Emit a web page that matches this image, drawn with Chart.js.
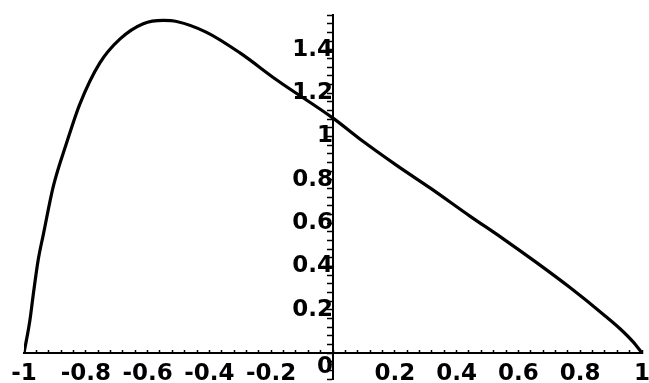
<!DOCTYPE html>
<html>
<head>
<meta charset="utf-8">
<script src="https://cdn.jsdelivr.net/npm/chart.js@4/dist/chart.umd.min.js"></script>
<style>
  html, body { margin: 0; padding: 0; background: #ffffff; }
  #wrap { width: 649px; height: 383px; }
</style>
</head>
<body>
<div id="wrap"><canvas id="c" width="649" height="383"></canvas></div>
<script>
const xValues = [-1, -0.981, -0.97, -0.954, -0.937, -0.905, -0.862, -0.819, -0.754, -0.689, -0.614, -0.549, -0.506, -0.409, -0.301, -0.182, 0, 0.098, 0.206, 0.314, 0.443, 0.551, 0.659, 0.767, 0.875, 0.929, 0.972, 1];
const yValues = [0, 0.15, 0.27, 0.43, 0.55, 0.77, 0.97, 1.15, 1.34, 1.45, 1.52, 1.535, 1.53, 1.48, 1.385, 1.26, 1.084, 0.976, 0.866, 0.762, 0.632, 0.527, 0.417, 0.302, 0.178, 0.112, 0.05, 0];

// Axis ranges and tick steps
const xRange = [-1, 1];
const yRange = [-0.12, 1.56];
const minorStep = 0.04;
const majorStep = 0.2;

const points = xValues.map((x, i) => ({ x: x, y: yValues[i] }));

function isMajor(v) {
  const r = v / majorStep;
  return Math.abs(r - Math.round(r)) < 1e-6;
}
function fmt(v) {
  const s = (Math.round(v / majorStep) * majorStep).toFixed(1);
  return s.replace(/\.0$/, '');
}
function noPad(scale) {
  scale.paddingLeft = 0;
  scale.paddingRight = 0;
  scale.paddingTop = 0;
  scale.paddingBottom = 0;
}

const labelFont = { family: 'DejaVu Sans', weight: 'bold', size: 23 };

new Chart(document.getElementById('c'), {
  type: 'scatter',
  data: {
    datasets: [{
      data: points,
      showLine: true,
      borderColor: '#000000',
      borderWidth: 3.2,
      pointRadius: 0,
      cubicInterpolationMode: 'monotone',
      fill: false
    }]
  },
  options: {
    responsive: false,
    animation: false,
    events: [],
    layout: { padding: { left: 24, right: 7, top: 15, bottom: 4 } },
    plugins: { legend: { display: false }, tooltip: { enabled: false } },
    scales: {
      x: {
        type: 'linear',
        min: xRange[0],
        max: xRange[1],
        position: { y: 0 },
        afterFit: noPad,
        border: { display: true, color: '#000000', width: 2 },
        grid: { drawOnChartArea: false, drawTicks: true, tickLength: -4, tickColor: '#000000', tickWidth: 1.5 },
        ticks: {
          stepSize: minorStep,
          autoSkip: false,
          maxRotation: 0,
          minRotation: 0,
          padding: 11,
          color: '#000000',
          font: labelFont,
          callback: function (v) {
            if (!isMajor(v)) return '';
            if (Math.abs(v) < 1e-9) return '';
            return fmt(v);
          }
        }
      },
      y: {
        type: 'linear',
        min: yRange[0],
        max: yRange[1],
        position: { x: 0 },
        afterFit: noPad,
        border: { display: true, color: '#000000', width: 2 },
        grid: { drawOnChartArea: false, drawTicks: true, tickLength: 5, tickColor: '#000000', tickWidth: 1.5 },
        ticks: {
          stepSize: minorStep,
          autoSkip: false,
          padding: 9,
          color: '#000000',
          font: labelFont,
          callback: function (v) {
            if (!isMajor(v) || v < -1e-9) return '';
            if (Math.abs(v) < 1e-9) return ['', '0'];
            return fmt(v);
          }
        }
      }
    }
  }
});
</script>
</body>
</html>
